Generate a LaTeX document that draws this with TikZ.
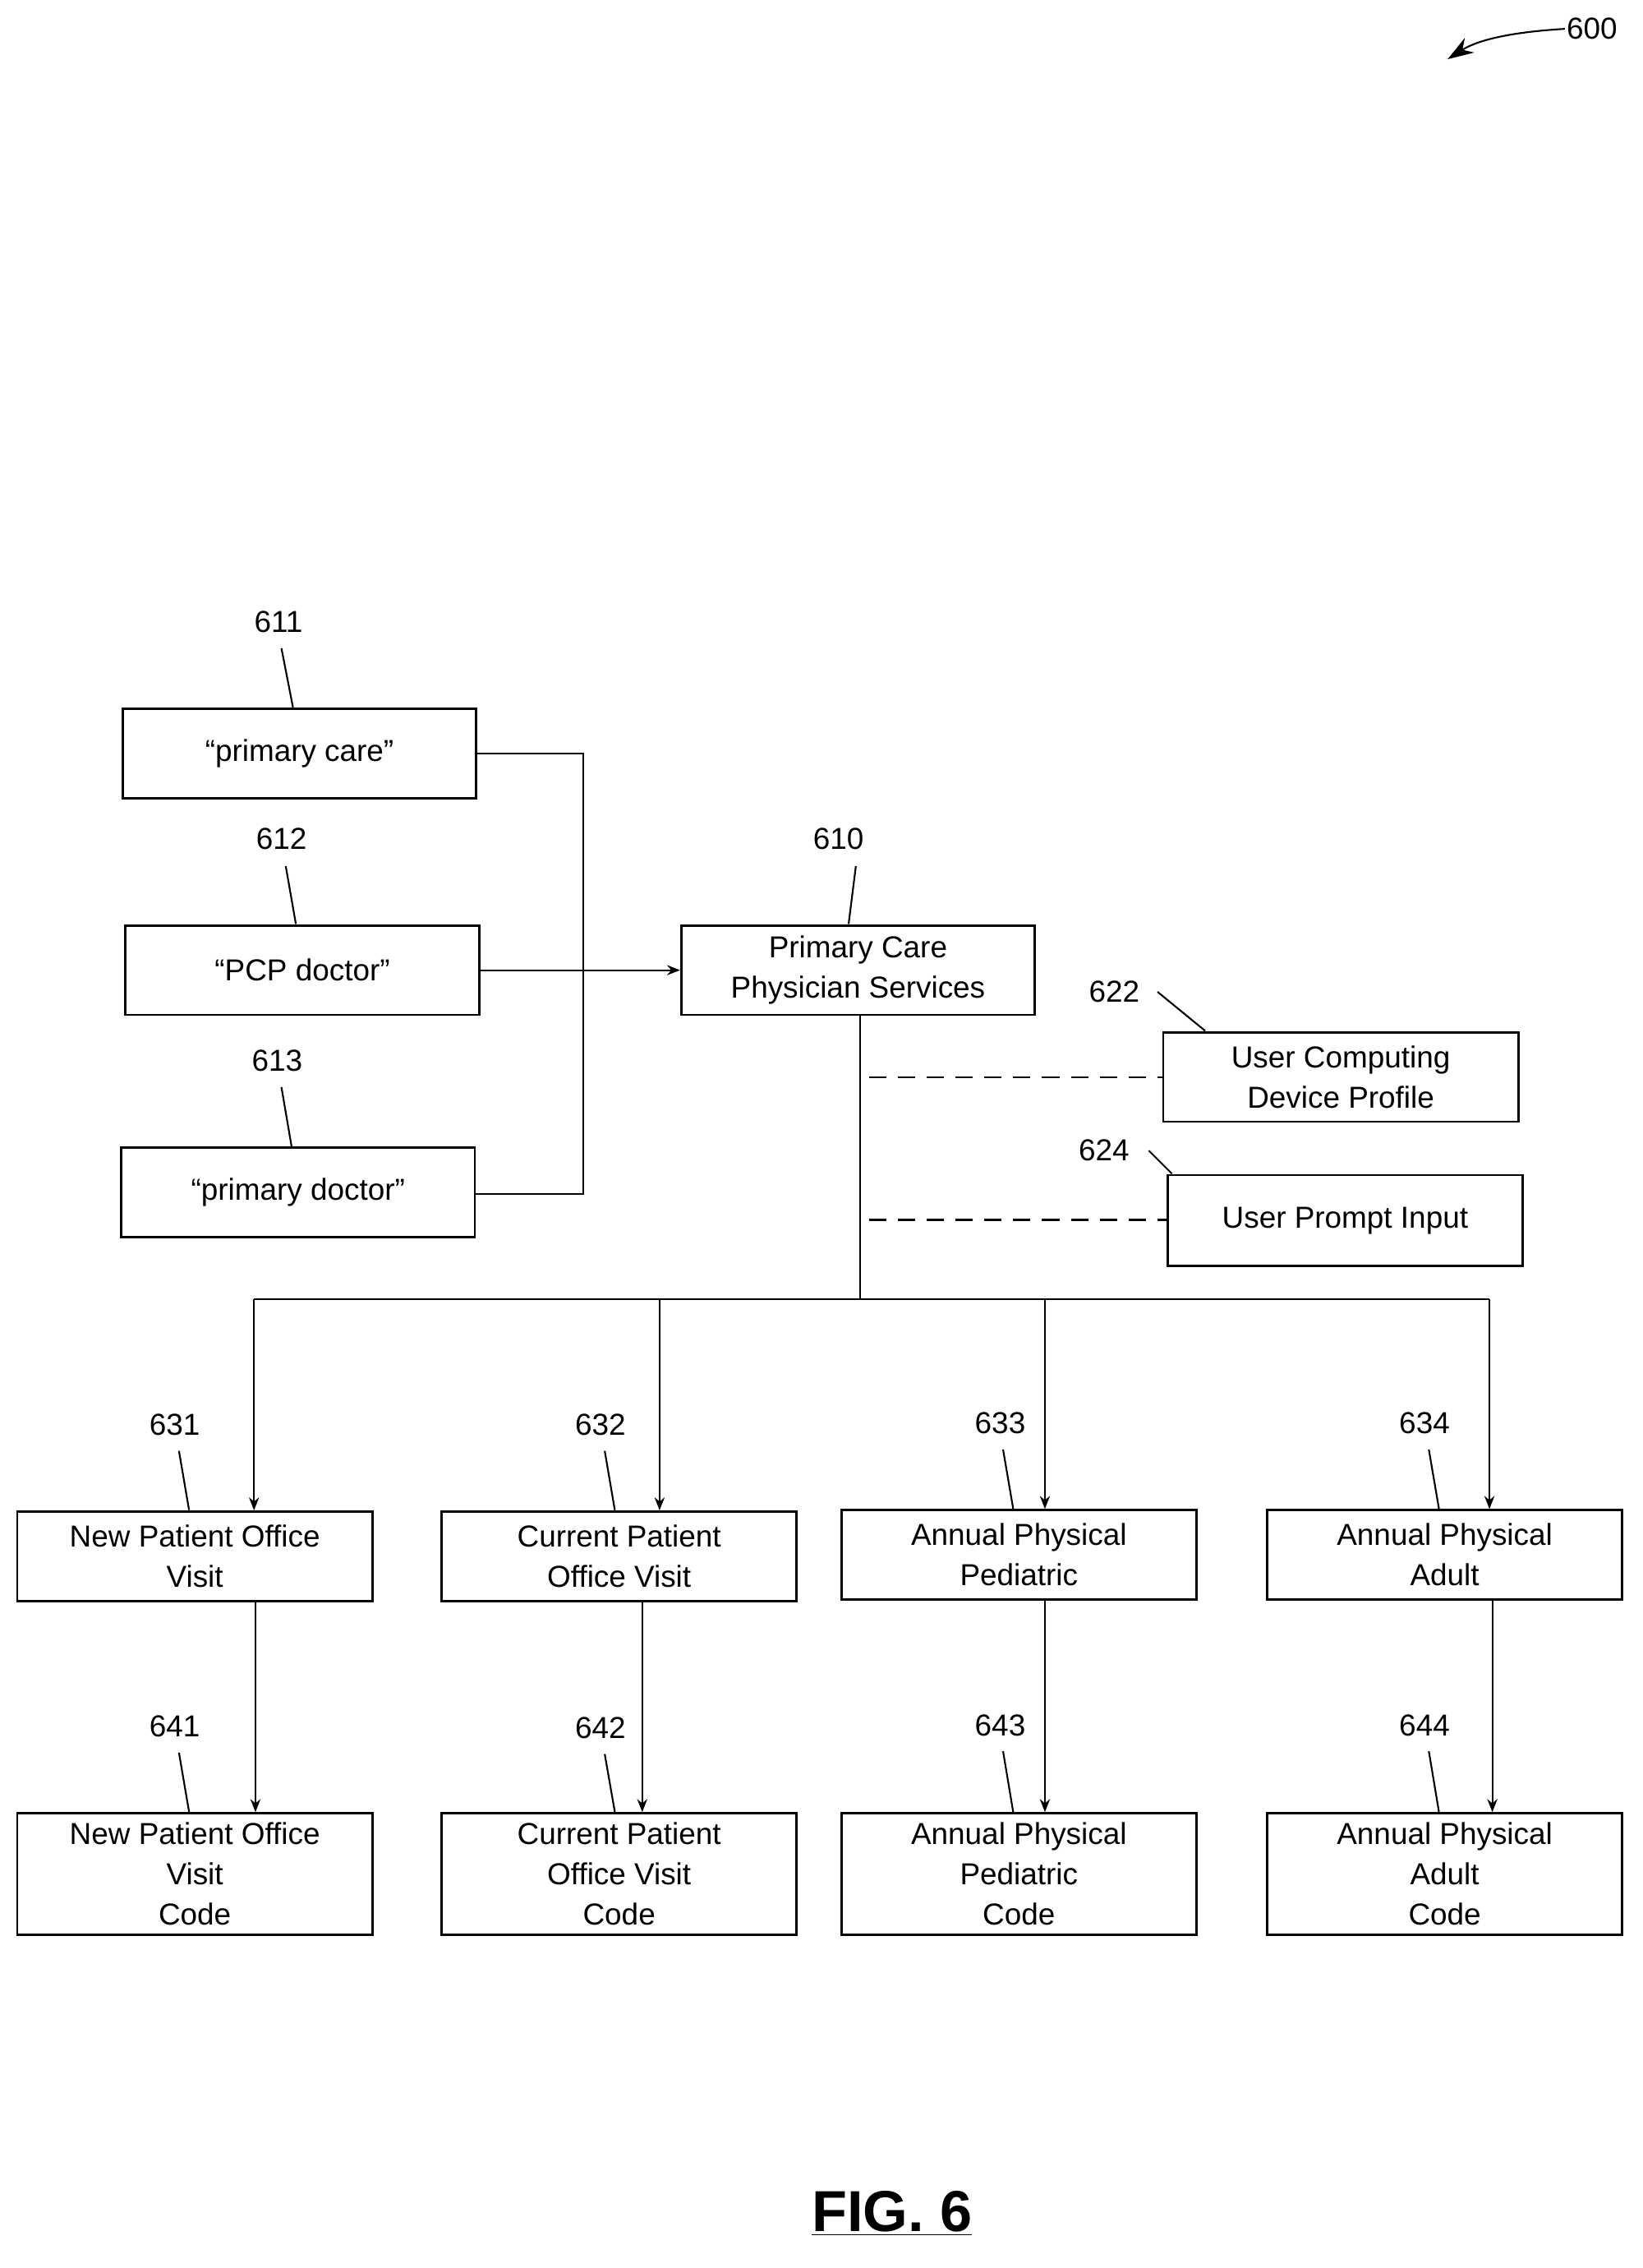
\documentclass[tikz,border=0pt]{standalone}
\usepackage{fontspec}
\setmainfont{Liberation Sans}
\usetikzlibrary{arrows.meta}
\begin{document}
\begin{tikzpicture}[x=1pt,y=-1pt,
 box/.style={draw,line width=1.6pt,align=center,inner sep=0pt,font=\fontsize{21}{28}\selectfont},
 lbl/.style={font=\fontsize{21}{24}\selectfont,inner sep=1pt},
 con/.style={line width=1.2pt},
 arr/.style={con,-{Stealth[length=9pt,width=7pt]}},
 lead/.style={line width=1.2pt}]
\useasboundingbox (0,0) rectangle (1138,1571);
\newcommand{\bx}[6]{\node[box,minimum width={#4-#2},minimum height={#5-#3}] (#1) at ({(#2+#4)/2},{(#3+#5)/2}) {#6};}
\bx{b611}{85}{491}{330}{553}{“primary care”}
\bx{b612}{87}{641}{332}{703}{“PCP doctor”}
\bx{b613}{84}{795}{329}{857}{“primary doctor”}
\bx{b610}{472}{641}{717}{703}{Primary Care\\Physician Services}
\bx{b622}{806}{715}{1052}{777}{User Computing\\Device Profile}
\bx{b624}{809}{814}{1055}{877}{User Prompt Input}
\bx{b631}{12}{1047}{258}{1109}{New Patient Office\\Visit}
\bx{b632}{306}{1047}{552}{1109}{Current Patient\\Office Visit}
\bx{b633}{583}{1046}{829}{1108}{Annual Physical\\Pediatric}
\bx{b634}{878}{1046}{1124}{1108}{Annual Physical\\Adult}
\bx{b641}{12}{1256}{258}{1340}{New Patient Office\\Visit\\Code}
\bx{b642}{306}{1256}{552}{1340}{Current Patient\\Office Visit\\Code}
\bx{b643}{583}{1256}{829}{1340}{Annual Physical\\Pediatric\\Code}
\bx{b644}{878}{1256}{1124}{1340}{Annual Physical\\Adult\\Code}
% connectors
\coordinate (j1) at (404,522); \coordinate (j3) at (404,827);
\draw[con] (b611.east|-j1) -- (j1) -- (j3) -- (b613.east|-j3);
\draw[arr] (b612.east) -- (b610.west);
\coordinate (bus) at (596,900);
\draw[con] (b610.south-|bus) -- (bus);
\coordinate (d1) at (602,746); \coordinate (d2) at (602,845);
\draw[con,dashed,dash pattern=on 12pt off 8pt] (d1) -- (b622.west|-d1);
\draw[con,dashed,dash pattern=on 12pt off 8pt] (d2) -- (b624.west|-d2);
\coordinate (bl) at (176,900); \coordinate (br) at (1032,900);
\coordinate (t2) at (457,900); \coordinate (t3) at (724,900);
\draw[con] (bl) -- (br);
\draw[arr] (bl) -- (b631.north-|bl);
\draw[arr] (t2) -- (b632.north-|t2);
\draw[arr] (t3) -- (b633.north-|t3);
\draw[arr] (br) -- (b634.north-|br);
\coordinate (v1) at (177,0); \coordinate (v2) at (445,0); \coordinate (v3) at (724,0); \coordinate (v4) at (1034,0);
\draw[arr] (b631.south-|v1) -- (b641.north-|v1);
\draw[arr] (b632.south-|v2) -- (b642.north-|v2);
\draw[arr] (b633.south-|v3) -- (b643.north-|v3);
\draw[arr] (b634.south-|v4) -- (b644.north-|v4);
% labels
\newcommand{\lb}[7]{\node[lbl] (#1) at (#2,#3) {#1}; \draw[lead] (#4,#5) -- (#6,#7);}
\lb{611}{193}{431}{195}{449}{203}{490}
\lb{612}{195}{581}{198}{600}{205}{640}
\lb{613}{192}{735}{195}{753}{202}{794}
\lb{610}{581}{581}{593}{600}{588}{640}
\lb{622}{772}{687}{802}{687}{835}{714}
\lb{624}{765}{797}{796}{797}{812}{813}
\lb{631}{121}{987}{124}{1005}{131}{1046}
\lb{632}{416}{987}{419}{1005}{426}{1046}
\lb{633}{693}{986}{695}{1004}{702}{1045}
\lb{634}{987}{986}{990}{1004}{997}{1045}
\lb{641}{121}{1196}{124}{1214}{131}{1255}
\lb{642}{416}{1197}{419}{1215}{426}{1255}
\lb{643}{693}{1195}{695}{1213}{702}{1255}
\lb{644}{987}{1195}{990}{1213}{997}{1255}
\node[lbl] (l600) at (1103,20) {600};
\coordinate (a600) at (1003,41);
\draw[lead,-{Stealth[length=18pt,width=12pt]}] (l600.west) .. controls (1050,22) and (1025,27) .. (a600);
\node[font=\fontsize{40}{44}\selectfont\bfseries] (fig) at (618,1533) {\underline{FIG. 6}};
\end{tikzpicture}
\end{document}
